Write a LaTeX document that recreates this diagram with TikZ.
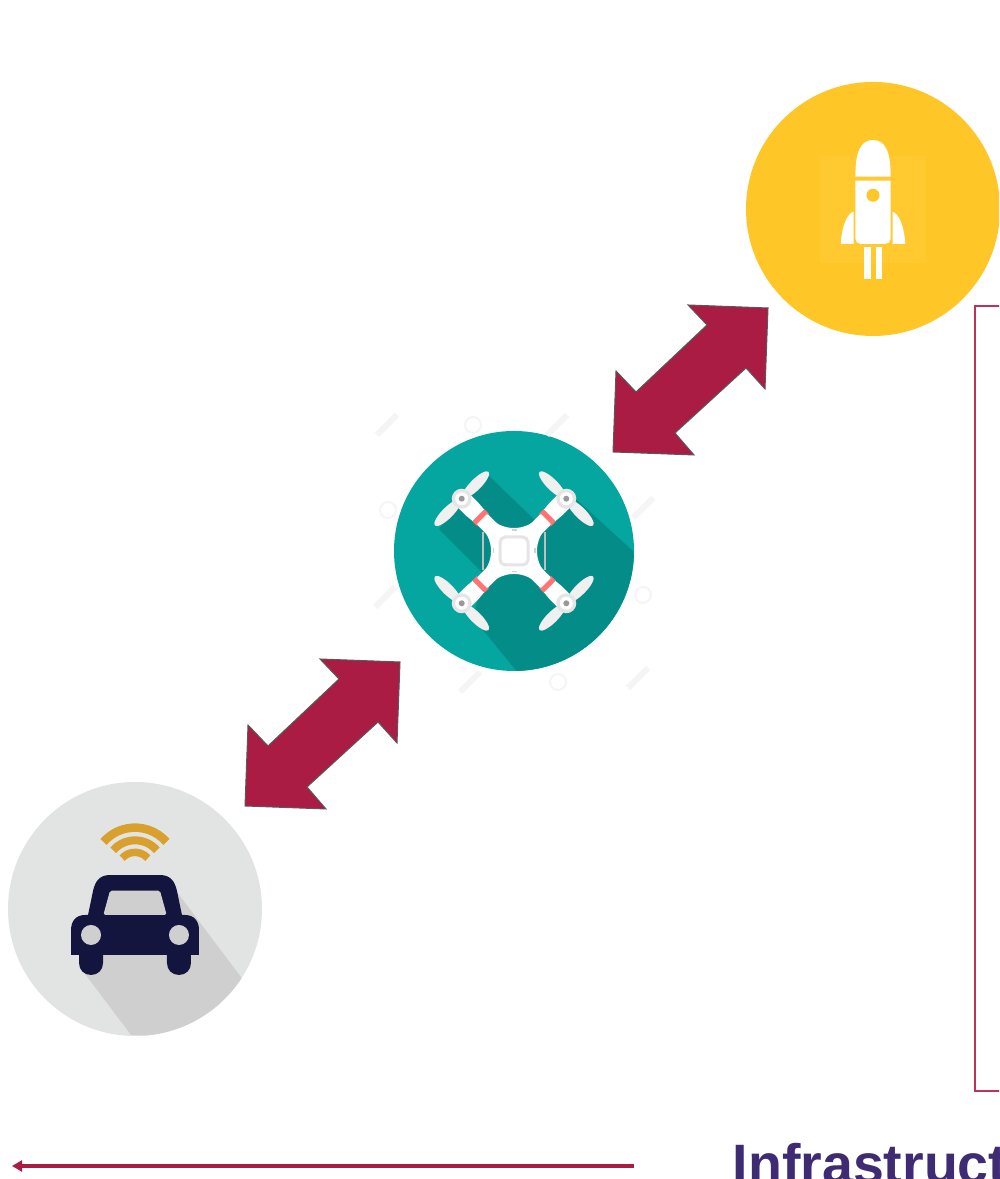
\documentclass[tikz,border=0pt]{standalone}
\usepackage{fontspec}
\setmainfont{Liberation Sans}
\usetikzlibrary{arrows.meta}
\definecolor{rocketyellow}{HTML}{FFC627}
\definecolor{rocketsquare}{HTML}{FFC92F}
\definecolor{droneteal}{HTML}{05A69F}
\definecolor{droneshade}{HTML}{048D88}
\definecolor{carback}{HTML}{E2E4E4}
\definecolor{carshade}{HTML}{CFCFCF}
\definecolor{carnavy}{HTML}{14153F}
\definecolor{wifiamber}{HTML}{D9A02D}
\definecolor{linkred}{HTML}{AA1C44}
\definecolor{framered}{HTML}{C2305A}
\definecolor{labelpurple}{HTML}{3F2A74}
\tikzset{disc/.style={circle,inner sep=0pt,minimum size=#1}}

\begin{document}
\begin{tikzpicture}
			%%%%% PAGE %%%%%
			\useasboundingbox (0, 0) rectangle (9.99, 11.79);
			\clip (0, 0) rectangle (9.99, 11.79);
			\fill[white] (0, 0) rectangle (9.99, 11.79);
			
			%%%%% ROCKET %%%%%
			\node[disc=2.54cm, fill=rocketyellow] (rocket) at (8.73, 9.70) {};
			\begin{scope}[shift={(rocket.center)}, scale=0.01]
				\fill[rocketsquare] (-53, 53) rectangle (53, -54);
				\fill[white] (-17.7, 32.3) .. controls (-17.7, 58) and (-12, 69) .. (0, 69) .. controls (12, 69) and (17.7, 58) .. (17.7, 32.3) -- cycle;
				\fill[white] (-17.7, 28.3) -- (17.7, 28.3) [rounded corners=1.5pt] -- (17.7, -35) -- (-17.7, -35) [sharp corners] -- cycle;
				\fill[rocketyellow] (0, 13.7) circle (6.5);
				\foreach \side in {-1, 1}
				{
					\fill[white] (\side*32.3, -35) .. controls (\side*31, -15) and (\side*25, -4) .. (\side*19.5, -2.7) -- (\side*19.5, -35) -- cycle;
					\fill[white] (\side*2.5, -37.7) rectangle (\side*8.7, -70.3);
				}
			\end{scope}
			
			%%%%% DRONE %%%%%
			\node[disc=2.40cm, fill=droneteal] (drone) at (5.14, 6.28) {};
			\foreach \mx/\my in {3.87/7.54, 5.57/7.54, 6.43/6.71, 3.85/5.82, 4.70/4.97, 6.38/5.01}
			{
				\draw[black!4, line width=0.06cm] (\mx-0.1, \my-0.1) -- (\mx+0.1, \my+0.1);
			}
			\foreach \mx/\my in {4.73/7.54, 3.88/6.69, 6.43/5.84, 5.58/4.97}
			{
				\draw[black!4, line width=0.02cm] (\mx, \my) circle (0.08);
			}
			\begin{scope}[shift={(drone.center)}, scale=0.01]
				\begin{scope}
					\clip (0, 0) circle (120);
					\fill[droneshade] (-28.3, 78.3) -- (20, 31.7) -- (30, 35) -- (62, 52) -- (119, 0) -- (160, -160) -- (2.5, -120) -- (-41, -67) -- (-30, -25) -- (-35, -18.3) -- (-75, 21.7) -- (-52.7, 51.7) -- cycle;
				\end{scope}
				
				\draw[black!25, line width=0.015cm] (-31, 19) -- (-31, -19);
				\draw[black!25, line width=0.015cm] (31, 19) -- (31, -19);
				\foreach \turn in {45, 135, 225, 315}
				{
					\begin{scope}[rotate=\turn]
						\fill[white] (30, -7.5) -- (44, -7.5) -- (60, -9) -- (74, -9) -- (74, 9) -- (60, 9) -- (44, 7.5) -- (30, 7.5) -- cycle;
						\fill[red!55!white] (44, -8.5) rectangle (50.5, 8.5);
						\fill[black!6] (74, 20) ellipse (5.5 and 18);
						\fill[black!6] (74, -20) ellipse (5.5 and 18);
						\fill[black!10] (74, 0) circle (10);
						\fill[white] (74, 0) circle (6.5);
						\fill[black!40] (74, 0) circle (3);
					\end{scope}
				}
				\fill[white] (-27, 37) .. controls (-14, 18.3) and (14, 18.3) .. (27, 37) -- (37, 27) .. controls (18.3, 14) and (18.3, -14) .. (37, -27) -- (27, -37) .. controls (14, -18.3) and (-14, -18.3) .. (-27, -37) -- (-37, -27) .. controls (-18.3, -14) and (-18.3, 14) .. (-37, 27) -- cycle;
				\draw[black!10, line width=0.03cm, rounded corners=1.5pt] (-14, 14) rectangle (14, -14);
				\foreach \turn in {0, 90, 180, 270}
				{
					\fill[black!18, rotate=\turn] (-2.5, 20) rectangle (2.5, 21.5);
				}
			\end{scope}
			
			%%%%% CAR %%%%%
			\node[disc=2.54cm, fill=carback] (car) at (1.35, 2.70) {};
			\begin{scope}[shift={(car.center)}, scale=0.01]
				\begin{scope}
					\clip (0, 0) circle (127);
					\fill[carshade] (39, 21) -- (105.7, -67.7) -- (130, -130) -- (-4, -126) -- (-51.7, -62.7) -- cycle;
				\end{scope}
				
				\fill[carnavy] (-25, 34) -- (25, 34) .. controls (36, 34) and (40, 27) .. (42, 18) -- (47, -6) -- (50, -6) .. controls (59, -6) and (64, -12) .. (64, -21) -- (64, -46) -- (56, -46) -- (56, -54) .. controls (56, -61) and (51, -66) .. (44, -66) .. controls (37, -66) and (32, -61) .. (32, -54) -- (32, -46) -- (-32, -46) -- (-32, -54) .. controls (-32, -61) and (-37, -66) .. (-44, -66) .. controls (-51, -66) and (-56, -61) .. (-56, -54) -- (-56, -46) -- (-64, -46) -- (-64, -21) .. controls (-64, -12) and (-59, -6) .. (-50, -6) -- (-47, -6) -- (-42, 18) .. controls (-40, 27) and (-36, 34) .. (-25, 34) -- cycle;
				\fill[carshade, rounded corners=0.5pt] (-25, 18.3) -- (25, 18.3) -- (31.7, -6) -- (-31.7, -6) -- cycle;
				\fill[carshade] (-44, -26) circle (10);
				\fill[carshade] (44, -26) circle (10);
				
				\foreach \rad/\wid in {41.7/0.085, 29/0.08, 17/0.075}
				{
					\draw[wifiamber, line width=\wid cm] ({\rad*cos(41)}, {39.7+\rad*sin(41)}) arc (41:139:\rad);
				}
			\end{scope}
			
			%%%%% LINKS %%%%%
			\foreach \dx/\dy in {0/0, -3.68/-3.54}
			{
				\draw[fill=linkred, draw=black!65, line width=0.1mm, shift={(\dx, \dy)}] (6.88, 8.74) -- (7.68, 8.71) -- (7.65, 7.90) -- (7.46, 8.11) -- (6.75, 7.46) -- (6.94, 7.24) -- (6.13, 7.27) -- (6.16, 8.08) -- (6.36, 7.87) -- (7.07, 8.54) -- cycle;
			}
			
			%%%%% FRAME %%%%%
			\draw[framered, line width=0.015cm] (10.2, 8.73) -- (9.75, 8.73) -- (9.75, 0.88) -- (10.2, 0.88);
			
			%%%%% BOTTOM %%%%%
			\coordinate (axisstart) at (6.34, 0.13);
			\coordinate (axisend) at (0.12, 0.13);
			\draw[linkred, line width=0.04cm, -{Triangle[length=0.10cm, width=0.11cm]}] (axisstart) -- (axisend);
			\node[anchor=base west, inner sep=0pt, text=labelpurple, font=\fontsize{15.8pt}{18pt}\bfseries] (infra) at (7.32, -0.04) {Infrastruct};
\end{tikzpicture}
\end{document}
